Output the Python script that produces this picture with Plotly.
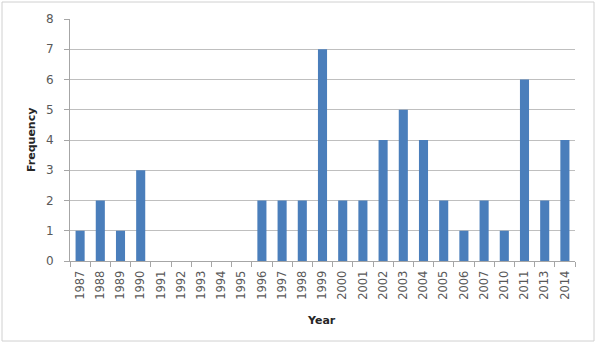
import plotly.graph_objects as go

years = ["1987", "1988", "1989", "1990", "1991", "1992", "1993", "1994", "1995",
         "1996", "1997", "1998", "1999", "2000", "2001", "2002", "2003", "2004",
         "2005", "2006", "2007", "2010", "2011", "2013", "2014"]
freq = [1, 2, 1, 3, 0, 0, 0, 0, 0,
        2, 2, 2, 7, 2, 2, 4, 5, 4,
        2, 1, 2, 1, 6, 2, 4]

W, H = 596, 343
L, R, T, B = 70, 21, 19, 82
pw, ph = W - L - R, H - T - B

def px(x):
    return (x - L) / pw

def py(y):
    return (H - B - y) / ph

fig = go.Figure(go.Bar(x=years, y=freq, marker=dict(color="#4A7EBB", line=dict(width=0))))

grey_text = "#595959"
fig.update_layout(
    width=W, height=H,
    margin=dict(l=L, r=R, t=T, b=B),
    paper_bgcolor="white", plot_bgcolor="white",
    bargap=0.55,
    showlegend=False,
    font=dict(family="DejaVu Sans", color=grey_text),
    xaxis=dict(type="category", tickangle=-90, tickson="boundaries",
               ticks="outside", ticklen=5, tickcolor="#a6a6a6",
               showline=True, linecolor="#a6a6a6", linewidth=1,
               showgrid=False, tickfont=dict(size=11.5, color=grey_text),
               ticklabelstandoff=4),
    yaxis=dict(range=[0, 8], dtick=1, ticks="outside", ticklen=5, tickcolor="#a6a6a6",
               showline=True, linecolor="#a6a6a6", linewidth=1,
               showgrid=True, gridcolor="#bfbfbf", gridwidth=1,
               zeroline=False, tickfont=dict(size=12, color=grey_text),
               ticklabelstandoff=8),
    shapes=[dict(type="rect", xref="paper", yref="paper",
                 x0=px(2), x1=px(594), y0=py(341), y1=py(2),
                 line=dict(color="#d0d0d0", width=1), layer="below")],
    annotations=[
        dict(text="<b>Frequency</b>", xref="paper", yref="paper", x=px(31), y=0.5,
             textangle=-90, showarrow=False, font=dict(size=11, color="#262626"),
             xanchor="center", yanchor="middle"),
        dict(text="<b>Year</b>", xref="paper", yref="paper", x=px(321), y=py(320),
             showarrow=False, font=dict(size=11, color="#262626"),
             xanchor="center", yanchor="middle"),
    ],
)

fig.write_html("out.html")
